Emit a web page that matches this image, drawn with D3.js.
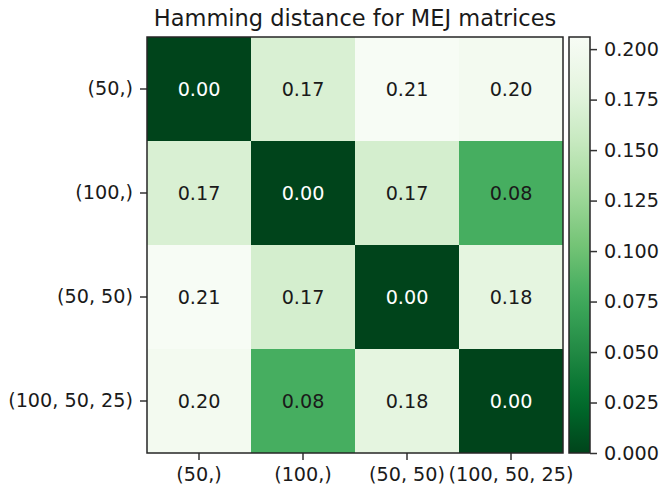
<!DOCTYPE html>
<html>
<head>
<meta charset="utf-8">
<script src="https://cdn.jsdelivr.net/npm/d3@7"></script>
<style>
  body { margin: 0; background: #fff; }
  text { font-family: "DejaVu Sans", sans-serif; fill: #1a1a1a; }
</style>
</head>
<body>
<div id="chart"></div>
<script>
// Hamming distance heatmap

const labels = ["(50,)", "(100,)", "(50, 50)", "(100, 50, 25)"];
const row0 = [0.000, 0.170, 0.206, 0.200];
const row1 = [0.170, 0.000, 0.166, 0.080];
const row2 = [0.206, 0.166, 0.000, 0.180];
const row3 = [0.200, 0.080, 0.180, 0.000];
const matrix = [row0, row1, row2, row3];
const cbarTicks = [0, 0.025, 0.05, 0.075, 0.1, 0.125, 0.15, 0.175, 0.2];
const greens = ["#f7fcf5", "#e5f5e0", "#c7e9c0", "#a1d99b", "#74c476",
                "#41ab5d", "#238b45", "#006d2c", "#00441b"];

const W = 661, H = 488;
const margin = {left: 147, top: 37};
const size = 416;
const fs = "19.2px";
const vmax = d3.max(matrix.flat());

const svg = d3.select("#chart").append("svg")
    .attr("width", W)
    .attr("height", H);

// reversed Greens: 0 -> dark, vmax -> light
const color = d3.scaleLinear()
    .domain(greens.map((c, i) => vmax * (greens.length - 1 - i) / (greens.length - 1)))
    .range(greens)
    .interpolate(d3.interpolateRgb);

const x = d3.scaleBand().domain(labels).range([0, size]);
const y = d3.scaleBand().domain(labels).range([0, size]);

const g = svg.append("g")
    .attr("transform", `translate(${margin.left},${margin.top})`);

const cells = [];
matrix.forEach((row, i) => row.forEach((v, j) => cells.push({r: labels[i], c: labels[j], v})));

g.selectAll(".cell")
    .data(cells)
    .enter().append("rect")
    .attr("class", "cell")
    .attr("x", d => x(d.c))
    .attr("y", d => y(d.r))
    .attr("width", x.bandwidth())
    .attr("height", y.bandwidth())
    .attr("fill", d => color(d.v))
    .attr("shape-rendering", "crispEdges");

g.selectAll(".val")
    .data(cells)
    .enter().append("text")
    .attr("class", "val")
    .attr("x", d => x(d.c) + x.bandwidth() / 2)
    .attr("y", d => y(d.r) + y.bandwidth() / 2)
    .attr("dy", "0.36em")
    .attr("text-anchor", "middle")
    .style("font-size", fs)
    .style("fill", d => d.v < vmax * 0.3 ? "#ffffff" : "#1a1a1a")
    .text(d => d.v.toFixed(2));

const xAxis = g.append("g")
    .attr("transform", `translate(0,${size})`)
    .call(d3.axisBottom(x).tickSize(7).tickPadding(7));
const yAxis = g.append("g")
    .call(d3.axisLeft(y).tickSize(7).tickPadding(7));

[xAxis, yAxis].forEach(ax => {
    ax.select(".domain").remove();
    ax.selectAll("line").attr("stroke", "#333").attr("stroke-width", 1.5);
    ax.selectAll("text").style("font-size", fs).style("font-family", "DejaVu Sans");
});

g.append("rect")
    .attr("width", size)
    .attr("height", size)
    .attr("fill", "none")
    .attr("stroke", "#262626")
    .attr("stroke-width", 1.5);

svg.append("text")
    .attr("x", margin.left + size / 2)
    .attr("y", 26)
    .attr("text-anchor", "middle")
    .style("font-size", "22.5px")
    .text("Hamming distance for MEJ matrices");

// colorbar
const cbX = 569, cbW = 21;
const cy = d3.scaleLinear().domain([0, vmax]).range([margin.top + size, margin.top]);

const defs = svg.append("defs");
const grad = defs.append("linearGradient")
    .attr("id", "cbar")
    .attr("x1", 0).attr("y1", 1).attr("x2", 0).attr("y2", 0);
d3.range(0, 1.0001, 0.05).forEach(t => {
    grad.append("stop")
        .attr("offset", t)
        .attr("stop-color", color(t * vmax));
});

svg.append("rect")
    .attr("x", cbX)
    .attr("y", margin.top)
    .attr("width", cbW)
    .attr("height", size)
    .attr("fill", "url(#cbar)")
    .attr("stroke", "#262626")
    .attr("stroke-width", 1.5);

const cAxis = svg.append("g")
    .attr("transform", `translate(${cbX + cbW},0)`)
    .call(d3.axisRight(cy).tickValues(cbarTicks).tickFormat(d3.format(".3f")).tickSize(7).tickPadding(7));
cAxis.select(".domain").remove();
cAxis.selectAll("line").attr("stroke", "#333").attr("stroke-width", 1.5);
cAxis.selectAll("text").style("font-size", fs).style("font-family", "DejaVu Sans");
</script>
</body>
</html>
